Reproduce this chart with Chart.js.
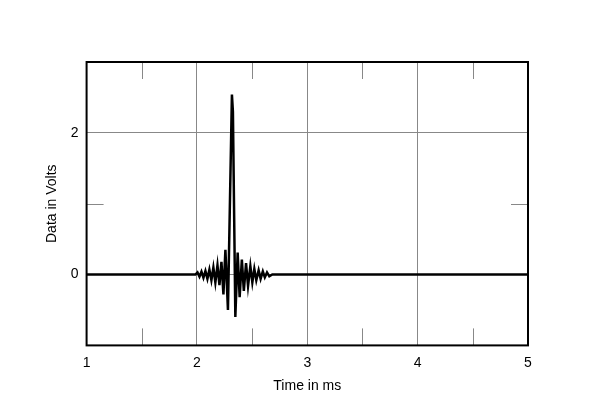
<!DOCTYPE html>
<html>
<head>
<meta charset="utf-8">
<script src="https://cdn.jsdelivr.net/npm/chart.js@4"></script>
<style>
  html, body { margin: 0; padding: 0; background: #fff; }
  #wrap { width: 600px; height: 407px; }
</style>
</head>
<body>
<div id="wrap"><canvas id="myChart" width="600" height="407"></canvas></div>
<script>
// Data
const timeMs = [1, 1.986, 2.005, 2.023, 2.041, 2.059, 2.077, 2.095, 2.113, 2.131, 2.149,
  2.167, 2.186, 2.204, 2.222, 2.240, 2.258, 2.281, 2.317, 2.326, 2.348, 2.369, 2.387,
  2.407, 2.425, 2.445, 2.463, 2.484, 2.502, 2.520, 2.538, 2.559, 2.577, 2.597, 2.615,
  2.635, 2.656, 2.683, 5];
const volts = [0, 0, 0.03, -0.03, 0.04, -0.045, 0.05, -0.06, 0.07, -0.08, 0.10,
  -0.11, 0.13, -0.15, 0.18, -0.28, 0.35, -0.50, 2.54, 2.30, -0.60, 0.31, -0.32,
  0.21, -0.23, 0.16, -0.16, 0.12, -0.11, 0.08, -0.08, 0.06, -0.06, 0.045, -0.04,
  0.03, -0.025, 0, 0];
const xTicks = [1, 2, 3, 4, 5];
const yTicks = [0, 2];
const xMinor = [1.5, 2.5, 3.5, 4.5];
const yMinor = [1];

const points = timeMs.map((t, i) => ({ x: t, y: volts[i] }));
const font = { family: "Arial, 'Liberation Sans', sans-serif", size: 14 };

// frame and short minor ticks
const framePlugin = {
  id: "frame",
  afterDraw(chart) {
    const { ctx, chartArea: a, scales } = chart;
    const len = 17;
    ctx.save();
    ctx.strokeStyle = "#888";
    ctx.lineWidth = 1;
    ctx.beginPath();
    xMinor.forEach(v => {
      const px = Math.round(scales.x.getPixelForValue(v)) + 0.5;
      ctx.moveTo(px, a.top); ctx.lineTo(px, a.top + len);
      ctx.moveTo(px, a.bottom); ctx.lineTo(px, a.bottom - len);
    });
    yMinor.forEach(v => {
      const py = Math.round(scales.y.getPixelForValue(v)) + 0.5;
      ctx.moveTo(a.left, py); ctx.lineTo(a.left + len, py);
      ctx.moveTo(a.right, py); ctx.lineTo(a.right - len, py);
    });
    ctx.stroke();
    ctx.strokeStyle = "#000";
    ctx.lineWidth = 2;
    ctx.strokeRect(a.left, a.top, a.right - a.left, a.bottom - a.top);
    ctx.restore();
  }
};

const config = {
  type: "line",
  data: {
    datasets: [{
      data: points,
      borderColor: "#000",
      borderWidth: 2.5,
      pointRadius: 0,
      tension: 0,
      fill: false
    }]
  },
  options: {
    responsive: false,
    animation: false,
    layout: { padding: { top: 62, right: 72, left: 44, bottom: 12 } },
    plugins: { legend: { display: false }, tooltip: { enabled: false } },
    scales: {
      x: {
        type: "linear",
        min: 1,
        max: 5,
        afterBuildTicks: s => { s.ticks = xTicks.map(v => ({ value: v })); },
        ticks: { color: "#000", font: font, padding: 9, maxRotation: 0 },
        grid: { color: "#888", lineWidth: 1, drawTicks: false },
        border: { display: false },
        title: { display: true, text: "Time in ms", color: "#000", font: font, padding: { top: -2, bottom: 0 } }
      },
      y: {
        min: -1,
        max: 3,
        afterBuildTicks: s => { s.ticks = yTicks.map(v => ({ value: v })); },
        ticks: { color: "#000", font: font, padding: 8 },
        grid: { color: "#888", lineWidth: 1, drawTicks: false },
        border: { display: false },
        title: { display: true, text: "Data in Volts", color: "#000", font: font, padding: { top: 0, bottom: 2 } }
      }
    }
  },
  plugins: [framePlugin]
};

const ctx = document.getElementById("myChart").getContext("2d");
const myChart = new Chart(ctx, config);
</script>
</body>
</html>
